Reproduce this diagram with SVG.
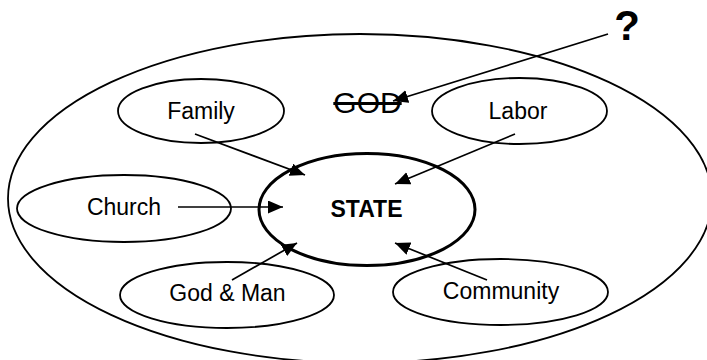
<svg xmlns="http://www.w3.org/2000/svg" width="707" height="360" viewBox="0 0 707 360">
<defs>
<style>
.node{fill:none;stroke:#000;stroke-width:1.8}
.state{fill:none;stroke:#000;stroke-width:3}
.lbl{font-family:"Liberation Sans",Arial,sans-serif;font-size:23px;fill:#000;text-anchor:middle}
.conn line{stroke:#000;stroke-width:1.7;marker-end:url(#ah)}
</style>
<marker id="ah" markerUnits="userSpaceOnUse" markerWidth="16" markerHeight="14" refX="15" refY="6.5" orient="auto">
<path d="M0,0 L15,6.5 L0,13 z" fill="#000"/>
</marker>
</defs>
<rect width="707" height="360" fill="#fff"/>
<g id="outer">
<ellipse class="node" cx="360" cy="198.5" rx="352" ry="164.5"/>
</g>
<g id="god">
<text class="lbl" x="367.5" y="112.5" style="font-size:30px;text-decoration:line-through">GOD</text>
</g>
<g id="question">
<text class="lbl" x="627" y="40" style="font-size:42px;font-weight:bold">?</text>
</g>
<g id="family">
<ellipse class="node" cx="201" cy="111" rx="83" ry="32"/>
<text class="lbl" x="201" y="118.5">Family</text>
</g>
<g id="labor">
<ellipse class="node" cx="519.5" cy="111" rx="87.5" ry="33"/>
<text class="lbl" x="518" y="118.5">Labor</text>
</g>
<g id="church">
<ellipse class="node" cx="124" cy="208.5" rx="107" ry="33.5"/>
<text class="lbl" x="124" y="214.5">Church</text>
</g>
<g id="state">
<ellipse class="state" cx="367" cy="209.5" rx="108" ry="56"/>
<text class="lbl" x="366.5" y="217" style="font-weight:bold">STATE</text>
</g>
<g id="godman">
<ellipse class="node" cx="227" cy="295" rx="107" ry="33"/>
<text class="lbl" x="227.5" y="301">God &amp; Man</text>
</g>
<g id="community">
<ellipse class="node" cx="500.5" cy="292" rx="107.5" ry="33"/>
<text class="lbl" x="501" y="298.5">Community</text>
</g>
<g id="connectors" class="conn">
<line x1="608" y1="34" x2="393" y2="101"/>
<line x1="195" y1="134" x2="305" y2="175"/>
<line x1="178" y1="207" x2="283" y2="207"/>
<line x1="515" y1="134" x2="395" y2="184"/>
<line x1="232" y1="280" x2="297" y2="243"/>
<line x1="487" y1="280" x2="395" y2="243"/>
</g>
</svg>
